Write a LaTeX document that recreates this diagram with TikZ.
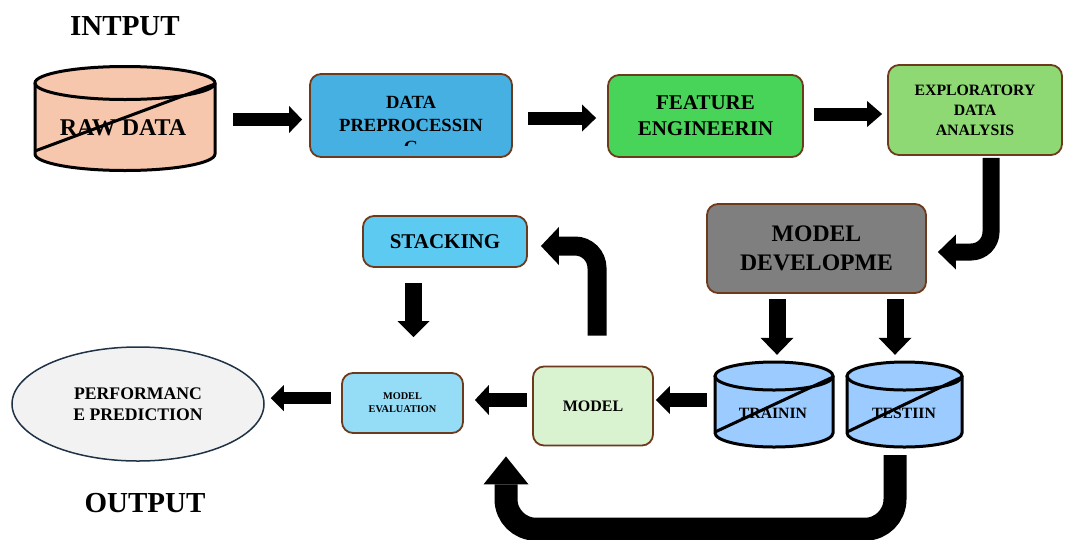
\documentclass[tikz,border=0pt]{standalone}
\usepackage{fontspec}
\setmainfont{Liberation Serif}
\usetikzlibrary{arrows.meta,shapes.geometric,calc}
\definecolor{bord}{HTML}{6E3A1C}
\definecolor{cpeach}{HTML}{F6C6AD}
\definecolor{cprep}{HTML}{45B0E1}
\definecolor{cfeat}{HTML}{47D459}
\definecolor{cexpl}{HTML}{8ED973}
\definecolor{cdev}{HTML}{7F7F7F}
\definecolor{cstack}{HTML}{5DCAF2}
\definecolor{ceval}{HTML}{95DCF7}
\definecolor{cmodel}{HTML}{D9F2D0}
\definecolor{ccyl}{HTML}{9CCBFF}
\definecolor{cperf}{HTML}{F2F2F2}
\definecolor{cperfb}{HTML}{1F3246}
\newcommand\mycyl[6]{%
  \pgfmathsetmacro\cylrx{(#2-#1)/2}%
  \pgfmathsetmacro\cylcx{(#2+#1)/2}%
  \fill[#6] (#1,#3) -- (#1,#4) arc[start angle=180,end angle=360,x radius=\cylrx pt,y radius=#5pt] -- (#2,#3) -- cycle;
  \fill[#6] (\cylcx,#3) ellipse[x radius=\cylrx pt,y radius=#5pt];
  \draw[cyl] (#1,#3) -- (#1,#4) arc[start angle=180,end angle=360,x radius=\cylrx pt,y radius=#5pt] -- (#2,#3);
  \draw[cyl] (\cylcx,#3) ellipse[x radius=\cylrx pt,y radius=#5pt];
}
\begin{document}
\begin{tikzpicture}[x=1pt,y=-1pt,
  box/.style={draw=bord, line width=1.8pt, rounded corners=11pt, inner sep=0pt, align=center, text=black},
  txt/.style={align=center, text=black, inner sep=0pt},
  cyl/.style={draw=black, line width=3pt},
  ghost/.style={inner sep=0pt, draw=none},
  barrow/.style n args={3}{draw=black, line width=#1, -{Triangle[length=#2,width=#3,line width=0pt]}},
]
\useasboundingbox (0,0) rectangle (1066,539);

% titles
\node[txt, font=\bfseries\fontsize{29}{31}\selectfont] (inp) at (125,26.5) {INTPUT};
\node[txt, font=\bfseries\fontsize{29}{31}\selectfont] (outp) at (145,503) {OUTPUT};

% raw data cylinder
\node[ghost, minimum width=180pt, minimum height=105pt] (raw) at (125,119.5) {};
\mycyl{35}{215}{83}{154}{16.5}{cpeach}
\draw[cyl] (35,151) -- (215,84);
\node[txt, font=\bfseries\fontsize{24}{27}\selectfont] (rawtext) at (123,127.5) {RAW DATA};

% boxes
\node[box, fill=cprep, minimum width=202pt, minimum height=83pt] (prep) at (411,115.5) {};
\begin{scope}
\clip (310,74) rectangle (512,145);
\node[txt, font=\bfseries\fontsize{18.6}{22.5}\selectfont] (preptext) at (411,125) {DATA\\PREPROCESSIN\\G};
\end{scope}
\node[box, fill=cfeat, minimum width=195pt, minimum height=82pt, font=\bfseries\fontsize{21}{26}\selectfont] (feat) at (705.5,116) {FEATURE\\ENGINEERIN};
\node[box, fill=cexpl, minimum width=174pt, minimum height=90pt, font=\bfseries\fontsize{15.8}{20}\selectfont] (expl) at (975,110) {EXPLORATORY\\DATA\\ANALYSIS};
\node[box, fill=cdev, minimum width=219pt, minimum height=89pt, font=\bfseries\fontsize{23.7}{29.5}\selectfont] (dev) at (816.5,248.5) {MODEL\\DEVELOPME};
\node[box, fill=cstack, minimum width=164pt, minimum height=51pt, font=\bfseries\fontsize{21}{24}\selectfont] (stack) at (445,241.5) {STACKING};
\node[box, fill=ceval, minimum width=121pt, minimum height=60pt, font=\bfseries\fontsize{10.3}{13}\selectfont] (eval) at (402.5,403) {MODEL\\EVALUATION};
\node[box, fill=cmodel, minimum width=120pt, minimum height=79pt, font=\bfseries\fontsize{16}{19}\selectfont] (model) at (593,406) {MODEL};
\node[ellipse, draw=cperfb, line width=1.5pt, fill=cperf, minimum width=252pt, minimum height=114pt, inner sep=0pt, align=center, font=\bfseries\fontsize{17.7}{20.5}\selectfont] (perf) at (138,404) {PERFORMANC\\E PREDICTION};

% train / test cylinders
\node[ghost, minimum width=118pt, minimum height=85pt] (train) at (774,404.5) {};
\mycyl{715}{833}{376}{433}{14}{ccyl}
\draw[cyl] (715,432) -- (833,377);
\node[txt, font=\bfseries\fontsize{15.7}{18}\selectfont] (traintext) at (773,413) {TRAININ};
\node[ghost, minimum width=115pt, minimum height=85pt] (test) at (904.5,404.5) {};
\mycyl{847}{962}{376}{433}{14}{ccyl}
\draw[cyl] (847,432) -- (962,377);
\node[txt, font=\bfseries\fontsize{15.7}{18}\selectfont] (testtext) at (904,413) {TESTIIN};

% arrows
\draw[barrow={13pt}{13pt}{27pt}, shorten >=7pt] ([xshift=18pt]raw.east) -- (prep.west |- raw.east);
\draw[barrow={13pt}{14pt}{27pt}] ([xshift=15pt,yshift=-2.5pt]prep.east) -- ([xshift=-11pt,yshift=-2pt]feat.west);
\draw[barrow={13pt}{15pt}{26pt}] ([xshift=10pt,yshift=2pt]feat.east) -- ([xshift=-5pt,yshift=-4pt]expl.west);
\draw[barrow={17pt}{18pt}{35pt}, rounded corners=20pt] ([xshift=16pt,yshift=-2pt]expl.south) |- ([xshift=11pt,yshift=-3.5pt]dev.east);
\draw[barrow={17pt}{17pt}{33pt}, shorten <=5pt, shorten >=7pt] ([xshift=-39.5pt]dev.south) -- ([xshift=-39.5pt]dev.south |- train.north);
\draw[barrow={17pt}{17pt}{33pt}, shorten <=5pt, shorten >=7pt] ([xshift=78.5pt]dev.south) -- ([xshift=78.5pt]dev.south |- test.north);
\draw[barrow={14pt}{14pt}{28pt}] ([xshift=-8pt,yshift=4.5pt]train.west) -- ([xshift=2pt,yshift=6pt]model.east);
\draw[barrow={14pt}{14pt}{30pt}] ([xshift=-5pt,yshift=6pt]model.west) -- ([xshift=11pt,yshift=3pt]eval.east);
\draw[barrow={12pt}{13pt}{26pt}] ([xshift=-10pt,yshift=5pt]eval.west) -- ([xshift=6pt,yshift=6pt]perf.east);
\draw[barrow={17pt}{16pt}{32pt}, shorten >=35pt] ([xshift=-31.5pt,yshift=-15pt]stack.south) -- ([xshift=-31.5pt]stack.south |- eval.north);
\draw[barrow={19pt}{18pt}{38pt}, rounded corners=22pt] ([xshift=4pt,yshift=30pt]model.north) |- ([xshift=13pt,yshift=-4.5pt]stack.east);
\draw[barrow={23pt}{28pt}{45pt}, rounded corners=30pt] ([xshift=-9.5pt,yshift=-8pt]test.south) -- ++(0,74) -| ([xshift=-87pt,yshift=-10pt]model.south);
\end{tikzpicture}
\end{document}
